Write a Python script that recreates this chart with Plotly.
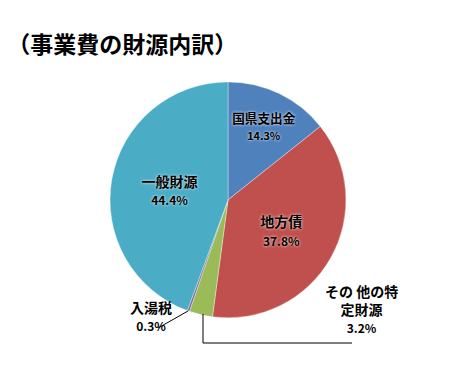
import plotly.graph_objects as go

labels = ["国県支出金", "地方債", "その 他の特<br>定財源", "入湯税", "一般財源"]
values = [14.3, 37.8, 3.2, 0.3, 44.4]
colors = ["#4F81BD", "#C0504D", "#9BBB59", "#8064A2", "#4BACC6"]
inside = [True, True, False, False, True]
title_text = "（事業費の財源内訳）"

font_family = "Noto Sans CJK JP, Noto Sans, sans-serif"
W, H = 456, 390

def fmt(l, v):
    return f"<b>{l}</b><br><b><span style='font-size:12px'>{v:.1f}%</span></b>"

texts = [fmt(l, v) if ins else "" for l, v, ins in zip(labels, values, inside)]
positions = ["inside" if ins else "none" for ins in inside]

fig = go.Figure(go.Pie(
    labels=labels,
    values=values,
    text=texts,
    textinfo="text",
    textposition=positions,
    insidetextorientation="horizontal",
    sort=False,
    direction="clockwise",
    rotation=0,
    marker=dict(colors=colors, line=dict(color="rgba(255,255,255,0.35)", width=1)),
    textfont=dict(family=font_family, size=14, color="#000000",
                  shadow="0px 0px 3px #ffffff"),
    domain=dict(x=[0.0, 1.0], y=[0.185, 0.79]),
    showlegend=False,
    hoverinfo="label+percent",
))

def px(x, y):
    return x / W, 1 - y / H

annotations = []
# 入湯税 label
x0, y0 = px(128, 336)
annotations.append(dict(x=x0, y=y0, xref="paper", yref="paper", showarrow=False,
                        text=fmt(labels[3], values[3]), align="center",
                        font=dict(family=font_family, size=14, color="#000000")))
# その他特定財源 label
x1, y1 = px(400, 338)
annotations.append(dict(x=x1, y=y1, xref="paper", yref="paper", showarrow=False,
                        text=fmt(labels[2], values[2]), align="center",
                        font=dict(family=font_family, size=14, color="#000000")))

shapes = []
a = px(158, 328); b = px(188, 311)
shapes.append(dict(type="line", xref="paper", yref="paper", x0=a[0], y0=a[1], x1=b[0], y1=b[1],
                   line=dict(color="#000000", width=1)))
p1 = px(203, 314); p2 = px(203, 343); p3 = px(352, 343)
shapes.append(dict(type="path", xref="paper", yref="paper",
                   path=f"M {p1[0]} {p1[1]} L {p2[0]} {p2[1]} L {p3[0]} {p3[1]}",
                   line=dict(color="#000000", width=1)))

fig.update_layout(
    width=W, height=H,
    margin=dict(l=0, r=0, t=0, b=0),
    paper_bgcolor="white",
    title=dict(text=f"<b>{title_text}</b>", x=0.016, xanchor="left", y=0.885, yanchor="middle",
               font=dict(family=font_family, size=23, color="#000000")),
    annotations=annotations,
    shapes=shapes,
)

fig.write_html("out.html", config={"displayModeBar": False},
               post_script="document.body.style.margin='0';document.body.style.overflow='hidden';")
